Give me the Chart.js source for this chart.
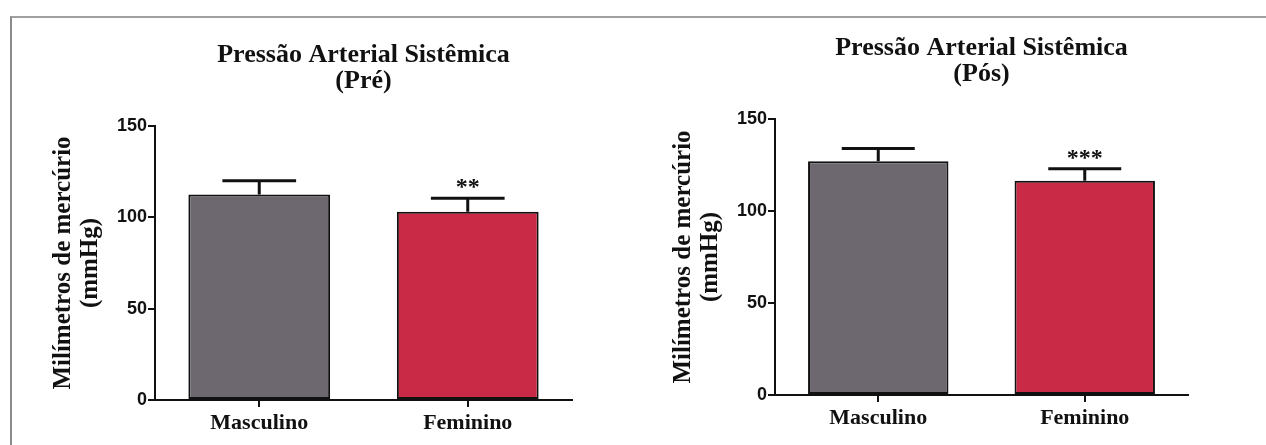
<!DOCTYPE html>
<html>
<head>
<meta charset="utf-8">
<script src="https://cdn.jsdelivr.net/npm/chart.js@4"></script>
<style>
  html, body { margin: 0; padding: 0; background: #fff; }
  body { width: 1266px; height: 445px; position: relative; overflow: hidden; }
  .frame { position: absolute; left: 10px; top: 16px; right: -4px; bottom: -4px;
           border-top: 2px solid #a0a0a0; border-left: 2px solid #8a8a8a; }
  .box { position: absolute; top: 0; height: 445px; }
  #pre-box { left: 0; width: 633px; }
  #pos-box { left: 620px; width: 646px; }
</style>
</head>
<body>
<div class="frame"></div>
<div class="box" id="pre-box"><canvas id="pre"></canvas></div>
<div class="box" id="pos-box"><canvas id="pos"></canvas></div>
<script>
// values
const categories = ['Masculino', 'Feminino'];
const preMeans = [112.5, 103];
const preErrors = [7.5, 7.5];
const preMarks = ['', '**'];
const posMeans = [127, 116.5];
const posErrors = [7, 6.5];
const posMarks = ['', '***'];
const yTicks = [0, 50, 100, 150];
const barColors = ['#6d6870', '#c92a45'];

const serif = "'Liberation Serif', 'Times New Roman', serif";
const sans = "'Liberation Sans', Arial, sans-serif";

// centers the title over the plot area and draws the SEM bars and marks
const errorBarPlugin = {
    id: 'errorBars',
    beforeDraw(chart) {
        const tb = chart.titleBlock;
        if (tb) {
            tb.left = chart.chartArea.left;
            tb.right = chart.chartArea.right;
        }
    },
    afterDatasetsDraw(chart, args, opts) {
        const ctx = chart.ctx;
        const yScale = chart.scales.y;
        const meta = chart.getDatasetMeta(0);
        const values = chart.data.datasets[0].data;
        ctx.save();
        ctx.strokeStyle = '#111';
        ctx.lineCap = 'butt';
        meta.data.forEach((bar, i) => {
            const top = yScale.getPixelForValue(values[i]);
            const capY = yScale.getPixelForValue(values[i] + opts.errors[i]);
            const half = bar.width * 0.26;
            ctx.lineWidth = 3;
            ctx.beginPath();
            ctx.moveTo(bar.x, top);
            ctx.lineTo(bar.x, capY);
            ctx.moveTo(bar.x - half, capY);
            ctx.lineTo(bar.x + half, capY);
            ctx.stroke();
            if (opts.marks[i]) {
                ctx.fillStyle = '#111';
                ctx.font = 'bold 24px ' + serif;
                ctx.textAlign = 'center';
                ctx.textBaseline = 'alphabetic';
                ctx.fillText(opts.marks[i], bar.x, capY - 4);
            }
        });
        ctx.restore();
    }
};

function makeChart(id, titleText, means, errors, marks, titleTop, padRight, xHeight) {
    return new Chart(document.getElementById(id), {
        type: 'bar',
        data: {
            labels: categories,
            datasets: [{
                data: means,
                backgroundColor: barColors,
                borderColor: '#111',
                borderWidth: 2,
                borderSkipped: false,
                barPercentage: 0.68,
                categoryPercentage: 1
            }]
        },
        options: {
            responsive: true,
            maintainAspectRatio: false,
            animation: false,
            layout: { padding: { left: 0, right: padRight, top: 0, bottom: 0 } },
            plugins: {
                legend: { display: false },
                tooltip: { enabled: false },
                title: {
                    display: true,
                    text: titleText,
                    color: '#111',
                    font: { family: serif, size: 26, weight: 'bold', lineHeight: 1.0 },
                    padding: { top: titleTop, bottom: 31.5 }
                },
                errorBars: { errors: errors, marks: marks }
            },
            scales: {
                x: {
                    offset: true,
                    grid: { display: true, drawOnChartArea: false, offset: false,
                            drawTicks: true, tickLength: 7, color: '#111', lineWidth: 2 },
                    border: { display: true, color: '#111', width: 2 },
                    ticks: { color: '#111', padding: 3,
                             font: { family: serif, size: 22, weight: 'bold' } },
                    afterFit: (scale) => { scale.height = xHeight; }
                },
                y: {
                    min: 0,
                    max: 150,
                    afterBuildTicks: (scale) => { scale.ticks = yTicks.map(v => ({ value: v })); },
                    grid: { display: true, drawOnChartArea: false, drawTicks: true,
                            tickLength: 7, color: '#111', lineWidth: 2 },
                    border: { display: true, color: '#111', width: 2 },
                    ticks: { color: '#111', padding: 1,
                             font: { family: sans, size: 18, weight: 'bold' } },
                    title: {
                        display: true,
                        text: ['Milímetros de mercúrio', '(mmHg)'],
                        color: '#111',
                        font: { family: serif, size: 25, weight: 'bold', lineHeight: 1.1 },
                        padding: { top: 49.5, bottom: 0 }
                    },
                    afterFit: (scale) => { scale.width = 155; }
                }
            }
        },
        plugins: [errorBarPlugin]
    });
}

makeChart('pre', ['Pressão Arterial Sistêmica', '(Pré)'], preMeans, preErrors, preMarks, 42.5, 61, 45);
makeChart('pos', ['Pressão Arterial Sistêmica', '(Pós)'], posMeans, posErrors, posMarks, 35.5, 78, 50);
</script>
</body>
</html>
